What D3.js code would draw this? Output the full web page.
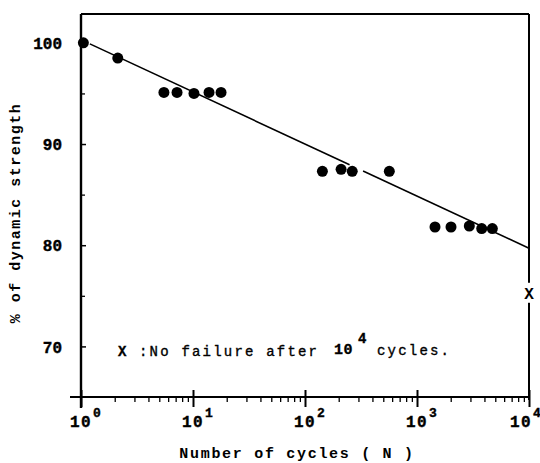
<!DOCTYPE html>
<html>
<head>
<meta charset="utf-8">
<script src="https://cdn.jsdelivr.net/npm/d3@7/dist/d3.min.js"></script>
<style>
  html, body { margin: 0; padding: 0; background: #fff; }
  svg { display: block; }
</style>
</head>
<body>
<svg id="chart" width="540" height="463"></svg>
<script>
// ---- data ----
const cyclesN = [1.05, 2.13, 5.5, 7.2, 10.2, 13.9, 17.8, 143, 210, 264, 566, 1448, 2012, 2931, 3782, 4706];
const strengthPct = [100, 98.5, 95.1, 95.1, 95.0, 95.1, 95.1, 87.3, 87.5, 87.3, 87.3, 81.8, 81.8, 81.9, 81.65, 81.65];
// fitted line, drawn in two pieces (gap in the original)
const fitPieceA_N = [1.2, 250];
const fitPieceA_S = [99.9, 87.95];
const fitPieceB_N = [330, 10000];
const fitPieceB_S = [87.33, 79.7];
// run-out (no failure) marker
const runoutN = [10000];
const runoutS = [75.3];
// ticks
const xMajorTicks = [1, 10, 100, 1000, 10000];
const xTickExps = ["0", "1", "2", "3", "4"];
const yMajorTicks = [70, 80, 90, 100];
const yMinorTicks = [75, 85, 95];
const yTickLabels = ["70", "80", "90", "100"];
const xTitle = "Number of cycles ( N )";
const yTitle = "% of dynamic strength";

// ---- layout ----
const svg = d3.select("#chart");
const W = 540;
const L = 81, R = 529, T = 14, B = 397;
const x = d3.scaleLog().domain([1, 10000]).range([L, R]);
const y = d3.scaleLinear().domain([65, 102.85]).range([B, T]);
const mono = "'Liberation Mono', 'DejaVu Sans Mono', monospace";

// minor x ticks
const xMinorTicks = [];
xMajorTicks.slice(0, -1).forEach(d => { for (let m = 2; m <= 9; m++) xMinorTicks.push(d * m); });

const gxMinor = svg.append("g").attr("transform", `translate(0,${B})`)
  .call(d3.axisBottom(x).tickValues(xMinorTicks).tickSize(5).tickFormat(""));
gxMinor.select(".domain").remove();
gxMinor.selectAll("line").attr("stroke", "#000").attr("stroke-width", 1.3);

// major x ticks (cross the axis)
const gxMajor = svg.append("g").attr("transform", `translate(0,${B - 7})`)
  .call(d3.axisBottom(x).tickValues(xMajorTicks).tickSize(17).tickFormat(""));
gxMajor.select(".domain").remove();
gxMajor.selectAll("line").attr("stroke", "#000").attr("stroke-width", 2);

// y ticks (inward)
const gyMajor = svg.append("g").attr("transform", `translate(${L},0)`)
  .call(d3.axisLeft(y).tickValues(yMajorTicks).tickSize(-5).tickPadding(19)
    .tickFormat((d, i) => yTickLabels[i]));
gyMajor.select(".domain").remove();
gyMajor.selectAll("line").attr("stroke", "#000").attr("stroke-width", 1.5);
gyMajor.selectAll("text")
  .attr("font-family", mono).attr("font-size", 16).attr("font-weight", "bold")
  .attr("fill", "#000").attr("stroke", "#000").attr("stroke-width", 0.4).attr("dy", "0.36em");

const gyMinor = svg.append("g").attr("transform", `translate(${L},0)`)
  .call(d3.axisLeft(y).tickValues(yMinorTicks).tickSize(-4).tickFormat(""));
gyMinor.select(".domain").remove();
gyMinor.selectAll("line").attr("stroke", "#000").attr("stroke-width", 1.3);

// frame lines
const frame = svg.append("g").attr("stroke", "#000").attr("fill", "none");
frame.append("line").attr("x1", L).attr("x2", L).attr("y1", T).attr("y2", B + 11).attr("stroke-width", 2.4);
frame.append("line").attr("x1", L - 11).attr("x2", R).attr("y1", B).attr("y2", B).attr("stroke-width", 2.2);
frame.append("line").attr("x1", L).attr("x2", R).attr("y1", T).attr("y2", T).attr("stroke-width", 2);
frame.append("line").attr("x1", R).attr("x2", R).attr("y1", T).attr("y2", B + 3).attr("stroke-width", 2);

// x tick labels: 10 with superscript exponent (kept inside the page at the right edge)
const xl = svg.append("g").attr("font-family", mono).attr("fill", "#000").attr("font-weight", "bold")
  .attr("stroke", "#000").attr("stroke-width", 0.4);
xMajorTicks.forEach((d, i) => {
  const px = Math.min(x(d), W - 19);
  xl.append("text").attr("x", px).attr("y", 427).attr("text-anchor", "middle")
    .attr("font-size", 16).attr("letter-spacing", 1.5).text("10");
  xl.append("text").attr("x", px + 12).attr("y", 417)
    .attr("font-size", 13).text(xTickExps[i]);
});

// fit line
const line = d3.line().x(d => x(d[0])).y(d => y(d[1]));
[[fitPieceA_N, fitPieceA_S], [fitPieceB_N, fitPieceB_S]].forEach(([ns, ss]) => {
  svg.append("path").datum(ns.map((n, i) => [n, ss[i]]))
    .attr("d", line).attr("fill", "none").attr("stroke", "#000").attr("stroke-width", 1.6);
});

// points
svg.append("g").selectAll("circle")
  .data(cyclesN.map((n, i) => [n, strengthPct[i]]))
  .join("circle")
  .attr("cx", d => x(d[0])).attr("cy", d => y(d[1])).attr("r", 5.5).attr("fill", "#000");

// run-out marker on right axis
runoutN.forEach((n, i) => {
  const px = x(n), py = y(runoutS[i]);
  svg.append("rect").attr("x", px - 6).attr("y", py - 10).attr("width", 12).attr("height", 20).attr("fill", "#fff");
  svg.append("text").attr("x", px).attr("y", py + 6).attr("text-anchor", "middle")
    .attr("font-family", mono).attr("font-weight", "bold").attr("font-size", 16).attr("fill", "#000").text("X");
});

// legend note
const note = svg.append("g").attr("font-family", mono).attr("fill", "#000")
  .attr("stroke", "#000").attr("stroke-width", 0.35);
note.append("text").attr("x", 118).attr("y", 356).attr("font-size", 14).attr("font-weight", "bold").text("X");
note.append("text").attr("x", 139).attr("y", 356).attr("font-size", 14).attr("letter-spacing", 2.2).text(":No failure after");
note.append("text").attr("x", 334).attr("y", 354).attr("font-size", 15).attr("font-weight", "bold").attr("letter-spacing", 0.5).text("10");
note.append("text").attr("x", 358).attr("y", 343).attr("font-size", 14).attr("font-weight", "bold").text("4");
note.append("text").attr("x", 377).attr("y", 355).attr("font-size", 14).attr("letter-spacing", 2.2).text("cycles.");

// axis titles
svg.append("text").attr("x", 297).attr("y", 458).attr("text-anchor", "middle")
  .attr("font-family", mono).attr("font-weight", "bold").attr("font-size", 15)
  .attr("letter-spacing", 1.7).attr("fill", "#000").text(xTitle);
svg.append("text").attr("transform", "translate(20,213) rotate(-90)").attr("text-anchor", "middle")
  .attr("font-family", mono).attr("font-weight", "bold").attr("font-size", 15)
  .attr("letter-spacing", 1.5).attr("fill", "#000").text(yTitle);
</script>
</body>
</html>
